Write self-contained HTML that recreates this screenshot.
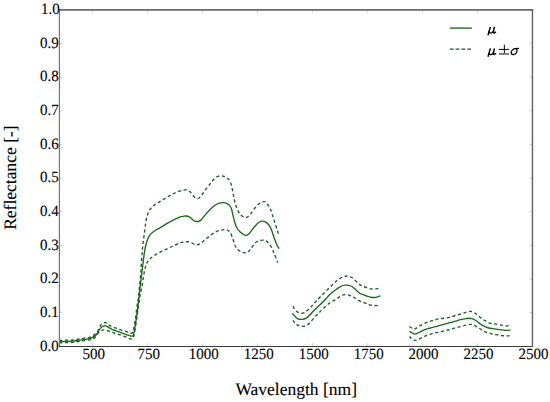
<!DOCTYPE html>
<html><head><meta charset="utf-8"><style>
html,body{margin:0;padding:0;background:#fff;}
body{width:550px;height:402px;overflow:hidden;}
svg{display:block;}
text{text-rendering:geometricPrecision;font-family:"Liberation Serif",serif;fill:#000;stroke:#000;stroke-width:0.1px;}
.tl{font-size:15px;}
.s{fill:none;stroke:#1a6a1a;stroke-width:1.35;stroke-linejoin:round;stroke-linecap:butt;}
.d{fill:none;stroke:#1b5f22;stroke-width:1.35;stroke-dasharray:3.2 2.55;stroke-dashoffset:0.3;stroke-linejoin:round;stroke-linecap:butt;}
.t{stroke:#d2d2d2;stroke-width:1.0;}
.f{fill:none;stroke:#111;stroke-width:1.2;stroke-linecap:square;}
.f2{fill:none;stroke:#333;stroke-width:1.3;stroke-linecap:square;}
</style></head><body>
<svg width="550" height="402" viewBox="0 0 550 402">
<rect x="0" y="0" width="550" height="402" fill="#fff"/>
<path d="M59.50,341.70 C60.70,341.65 64.53,341.48 66.70,341.40 C68.87,341.32 70.55,341.37 72.50,341.20 C74.45,341.03 76.45,340.70 78.40,340.40 C80.35,340.10 82.33,339.70 84.20,339.40 C86.07,339.10 88.30,338.88 89.60,338.60 C90.90,338.32 91.10,338.15 92.00,337.70 C92.90,337.25 94.12,336.60 95.00,335.90 C95.88,335.20 96.72,334.32 97.30,333.50 C97.88,332.68 98.00,331.85 98.50,331.00 C99.00,330.15 99.60,329.17 100.30,328.40 C101.00,327.63 101.90,326.87 102.70,326.40 C103.50,325.93 104.40,325.62 105.10,325.60 C105.80,325.58 106.20,325.92 106.90,326.30 C107.60,326.68 108.47,327.40 109.30,327.90 C110.13,328.40 110.85,328.83 111.90,329.30 C112.95,329.77 114.20,330.20 115.60,330.70 C117.00,331.20 118.53,331.63 120.30,332.30 C122.07,332.97 124.47,334.08 126.20,334.70 C127.93,335.32 129.58,335.82 130.70,336.00 C131.82,336.18 132.35,336.38 132.90,335.80 C133.45,335.22 133.53,334.73 134.00,332.50 C134.47,330.27 135.13,325.95 135.70,322.40 C136.27,318.85 136.82,315.73 137.40,311.20 C137.98,306.67 138.65,300.10 139.20,295.20 C139.75,290.30 140.20,286.02 140.70,281.80 C141.20,277.58 141.72,273.78 142.20,269.90 C142.68,266.02 143.17,261.82 143.60,258.50 C144.03,255.18 144.32,252.67 144.80,250.00 C145.28,247.33 145.88,244.58 146.50,242.50 C147.12,240.42 147.75,238.98 148.50,237.50 C149.25,236.02 149.83,234.82 151.00,233.60 C152.17,232.38 154.02,231.17 155.50,230.20 C156.98,229.23 157.50,229.20 159.90,227.80 C162.30,226.40 166.58,223.57 169.90,221.80 C173.22,220.03 177.55,218.12 179.80,217.20 C182.05,216.28 182.25,216.50 183.40,216.30 C184.55,216.10 185.58,215.83 186.70,216.00 C187.82,216.17 189.07,216.63 190.10,217.30 C191.13,217.97 191.97,219.33 192.90,220.00 C193.83,220.67 194.68,221.08 195.70,221.30 C196.72,221.52 197.98,221.65 199.00,221.30 C200.02,220.95 200.67,220.40 201.80,219.20 C202.93,218.00 204.40,215.73 205.80,214.10 C207.20,212.47 208.72,210.83 210.20,209.40 C211.68,207.97 213.28,206.50 214.70,205.50 C216.12,204.50 217.28,203.87 218.70,203.40 C220.12,202.93 221.80,202.67 223.20,202.70 C224.60,202.73 225.98,203.08 227.10,203.60 C228.22,204.12 229.15,204.87 229.90,205.80 C230.65,206.73 231.12,207.75 231.60,209.20 C232.08,210.65 232.27,212.28 232.80,214.50 C233.33,216.72 234.13,220.28 234.80,222.50 C235.47,224.72 235.95,226.25 236.80,227.80 C237.65,229.35 238.78,230.68 239.90,231.80 C241.02,232.92 242.48,233.92 243.50,234.50 C244.52,235.08 245.10,235.38 246.00,235.30 C246.90,235.22 247.98,234.78 248.90,234.00 C249.82,233.22 250.57,231.80 251.50,230.60 C252.43,229.40 253.27,228.18 254.50,226.80 C255.73,225.42 257.50,223.23 258.90,222.30 C260.30,221.37 261.58,221.10 262.90,221.20 C264.22,221.30 265.60,221.97 266.80,222.90 C268.00,223.83 269.17,225.22 270.10,226.80 C271.03,228.38 271.65,230.35 272.40,232.40 C273.15,234.45 273.87,237.05 274.60,239.10 C275.33,241.15 276.05,243.12 276.80,244.70 C277.55,246.28 278.72,247.95 279.10,248.60" class="s"/><path d="M292.50,313.40 C292.92,313.90 294.10,315.48 295.00,316.40 C295.90,317.32 296.75,318.40 297.90,318.90 C299.05,319.40 300.57,319.48 301.90,319.40 C303.23,319.32 304.57,319.15 305.90,318.40 C307.23,317.65 308.40,316.38 309.90,314.90 C311.40,313.42 313.25,311.15 314.90,309.50 C316.55,307.85 318.15,306.58 319.80,305.00 C321.45,303.42 323.13,301.75 324.80,300.00 C326.47,298.25 328.10,296.12 329.80,294.50 C331.50,292.88 333.30,291.58 335.00,290.30 C336.70,289.02 338.35,287.65 340.00,286.80 C341.65,285.95 343.45,285.45 344.90,285.20 C346.35,284.95 347.45,285.03 348.70,285.30 C349.95,285.57 351.17,286.03 352.40,286.80 C353.63,287.57 354.95,288.87 356.10,289.90 C357.25,290.93 358.45,292.32 359.30,293.00 C360.15,293.68 360.55,293.73 361.20,294.00 C361.85,294.27 362.48,294.35 363.20,294.60 C363.92,294.85 364.60,295.15 365.50,295.50 C366.40,295.85 367.47,296.37 368.60,296.70 C369.73,297.03 371.05,297.40 372.30,297.50 C373.55,297.60 374.75,297.57 376.10,297.30 C377.45,297.03 379.68,296.13 380.40,295.90" class="s"/><path d="M409.50,331.30 C409.97,331.58 411.37,332.53 412.30,333.00 C413.23,333.47 413.98,334.18 415.10,334.10 C416.22,334.02 417.42,333.23 419.00,332.50 C420.58,331.77 422.73,330.45 424.60,329.70 C426.47,328.95 428.15,328.57 430.20,328.00 C432.25,327.43 434.47,326.95 436.90,326.30 C439.33,325.65 442.62,324.70 444.80,324.10 C446.98,323.50 448.22,323.18 450.00,322.70 C451.78,322.22 453.73,321.72 455.50,321.20 C457.27,320.68 458.82,320.03 460.60,319.60 C462.38,319.17 464.52,318.82 466.20,318.60 C467.88,318.38 469.33,318.15 470.70,318.30 C472.07,318.45 473.10,318.78 474.40,319.50 C475.70,320.22 477.07,321.57 478.50,322.60 C479.93,323.63 481.32,324.80 483.00,325.70 C484.68,326.60 486.73,327.47 488.60,328.00 C490.47,328.53 492.33,328.62 494.20,328.90 C496.07,329.18 497.93,329.45 499.80,329.70 C501.67,329.95 503.63,330.35 505.40,330.40 C507.17,330.45 509.57,330.07 510.40,330.00" class="s"/><path d="M59.50,340.50 C60.70,340.45 64.53,340.28 66.70,340.20 C68.87,340.12 70.55,340.17 72.50,340.00 C74.45,339.83 76.45,339.50 78.40,339.20 C80.35,338.90 82.33,338.52 84.20,338.20 C86.07,337.88 88.30,337.62 89.60,337.30 C90.90,336.98 91.10,336.80 92.00,336.30 C92.90,335.80 94.12,334.93 95.00,334.30 C95.88,333.67 96.67,333.47 97.30,332.50 C97.93,331.53 98.20,329.77 98.80,328.50 C99.40,327.23 100.20,325.78 100.90,324.90 C101.60,324.02 102.30,323.60 103.00,323.20 C103.70,322.80 104.50,322.52 105.10,322.50 C105.70,322.48 105.78,322.55 106.60,323.10 C107.42,323.65 108.60,325.02 110.00,325.80 C111.40,326.58 113.23,327.13 115.00,327.80 C116.77,328.47 118.60,329.13 120.60,329.80 C122.60,330.47 125.32,331.23 127.00,331.80 C128.68,332.37 129.78,333.03 130.70,333.20 C131.62,333.37 132.03,333.33 132.50,332.80 C132.97,332.27 133.00,332.47 133.50,330.00 C134.00,327.53 134.88,322.17 135.50,318.00 C136.12,313.83 136.72,308.30 137.20,305.00 C137.68,301.70 138.07,300.82 138.40,298.20 C138.73,295.58 138.82,293.28 139.20,289.30 C139.58,285.32 140.33,278.68 140.70,274.30 C141.07,269.92 141.15,266.72 141.40,263.00 C141.65,259.28 141.93,255.17 142.20,252.00 C142.47,248.83 142.53,247.93 143.00,244.00 C143.47,240.07 144.47,232.43 145.00,228.40 C145.53,224.37 145.68,222.38 146.20,219.80 C146.72,217.22 147.37,214.77 148.10,212.90 C148.83,211.03 149.67,209.83 150.60,208.60 C151.53,207.37 152.37,206.53 153.70,205.50 C155.03,204.47 156.75,203.55 158.60,202.40 C160.45,201.25 162.72,199.85 164.80,198.60 C166.88,197.35 169.02,196.03 171.10,194.90 C173.18,193.77 175.25,192.60 177.30,191.80 C179.35,191.00 181.73,190.40 183.40,190.10 C185.07,189.80 186.10,189.63 187.30,190.00 C188.50,190.37 189.58,191.30 190.60,192.30 C191.62,193.30 192.47,195.00 193.40,196.00 C194.33,197.00 195.27,197.97 196.20,198.30 C197.13,198.63 198.15,198.45 199.00,198.00 C199.85,197.55 200.45,196.65 201.30,195.60 C202.15,194.55 203.17,193.00 204.10,191.70 C205.03,190.40 205.92,189.05 206.90,187.80 C207.88,186.55 209.15,185.25 210.00,184.20 C210.85,183.15 211.10,182.57 212.00,181.50 C212.90,180.43 214.10,178.75 215.40,177.80 C216.70,176.85 218.32,176.02 219.80,175.80 C221.28,175.58 222.98,176.07 224.30,176.50 C225.62,176.93 226.77,177.62 227.70,178.40 C228.63,179.18 229.25,179.98 229.90,181.20 C230.55,182.42 231.13,184.02 231.60,185.70 C232.07,187.38 232.33,189.43 232.70,191.30 C233.07,193.17 233.42,195.03 233.80,196.90 C234.18,198.77 234.48,200.62 235.00,202.50 C235.52,204.38 236.13,206.33 236.90,208.20 C237.67,210.07 238.45,212.22 239.60,213.70 C240.75,215.18 242.53,216.53 243.80,217.10 C245.07,217.67 246.07,217.67 247.20,217.10 C248.33,216.53 249.35,215.18 250.60,213.70 C251.85,212.22 253.22,209.92 254.70,208.20 C256.18,206.48 257.90,204.50 259.50,203.40 C261.10,202.30 263.08,201.58 264.30,201.60 C265.52,201.62 265.82,202.35 266.80,203.50 C267.78,204.65 269.03,205.87 270.20,208.50 C271.37,211.13 272.60,215.65 273.80,219.30 C275.00,222.95 276.53,227.70 277.40,230.40 C278.27,233.10 278.73,234.65 279.00,235.50" class="d"/><path d="M59.50,342.90 C60.70,342.85 64.53,342.68 66.70,342.60 C68.87,342.52 70.55,342.57 72.50,342.40 C74.45,342.23 76.45,341.90 78.40,341.60 C80.35,341.30 82.33,340.88 84.20,340.60 C86.07,340.32 88.30,340.15 89.60,339.90 C90.90,339.65 91.10,339.50 92.00,339.10 C92.90,338.70 94.12,338.30 95.00,337.50 C95.88,336.70 96.55,335.25 97.30,334.30 C98.05,333.35 98.50,332.53 99.50,331.80 C100.50,331.07 101.77,330.03 103.30,329.90 C104.83,329.77 106.95,330.48 108.70,331.00 C110.45,331.52 112.02,332.40 113.80,333.00 C115.58,333.60 117.37,333.93 119.40,334.60 C121.43,335.27 124.30,336.33 126.00,337.00 C127.70,337.67 128.68,338.27 129.60,338.60 C130.52,338.93 130.90,339.18 131.50,339.00 C132.10,338.82 132.70,338.50 133.20,337.50 C133.70,336.50 133.95,335.92 134.50,333.00 C135.05,330.08 135.83,324.50 136.50,320.00 C137.17,315.50 137.93,309.88 138.50,306.00 C139.07,302.12 139.28,300.23 139.90,296.70 C140.52,293.17 141.55,288.50 142.20,284.80 C142.85,281.10 143.25,277.48 143.80,274.50 C144.35,271.52 144.88,269.00 145.50,266.90 C146.12,264.80 146.75,263.23 147.50,261.90 C148.25,260.57 148.93,259.90 150.00,258.90 C151.07,257.90 152.25,257.02 153.90,255.90 C155.55,254.78 157.90,253.28 159.90,252.20 C161.90,251.12 163.90,250.35 165.90,249.40 C167.90,248.45 169.92,247.40 171.90,246.50 C173.88,245.60 175.82,244.75 177.80,244.00 C179.78,243.25 181.78,242.32 183.80,242.00 C185.82,241.68 187.97,241.65 189.90,242.10 C191.83,242.55 193.73,244.40 195.40,244.70 C197.07,245.00 198.32,244.70 199.90,243.90 C201.48,243.10 203.25,241.23 204.90,239.90 C206.55,238.57 208.15,237.15 209.80,235.90 C211.45,234.65 213.13,233.32 214.80,232.40 C216.47,231.48 218.18,230.87 219.80,230.40 C221.42,229.93 223.23,229.65 224.50,229.60 C225.77,229.55 226.47,229.65 227.40,230.10 C228.33,230.55 229.28,231.12 230.10,232.30 C230.92,233.48 231.63,235.48 232.30,237.20 C232.97,238.92 233.43,240.80 234.10,242.60 C234.77,244.40 235.33,246.58 236.30,248.00 C237.27,249.42 238.70,250.32 239.90,251.10 C241.10,251.88 242.30,252.43 243.50,252.70 C244.70,252.97 245.97,253.23 247.10,252.70 C248.23,252.17 248.88,251.18 250.30,249.50 C251.72,247.82 253.78,244.13 255.60,242.60 C257.42,241.07 259.52,240.60 261.20,240.30 C262.88,240.00 264.40,240.25 265.70,240.80 C267.00,241.35 267.98,242.40 269.00,243.60 C270.02,244.80 270.97,246.43 271.80,248.00 C272.63,249.57 273.02,250.58 274.00,253.00 C274.98,255.42 277.08,260.92 277.70,262.50" class="d"/><path d="M293.00,306.40 C293.50,307.15 294.85,309.82 296.00,310.90 C297.15,311.98 298.58,312.57 299.90,312.90 C301.22,313.23 302.57,313.40 303.90,312.90 C305.23,312.40 306.57,311.07 307.90,309.90 C309.23,308.73 310.58,307.30 311.90,305.90 C313.22,304.50 314.20,303.23 315.80,301.50 C317.40,299.77 319.17,297.85 321.50,295.50 C323.83,293.15 327.22,289.88 329.80,287.40 C332.38,284.92 334.98,282.27 337.00,280.60 C339.02,278.93 340.27,278.17 341.90,277.40 C343.53,276.63 345.17,275.98 346.80,276.00 C348.43,276.02 350.15,276.63 351.70,277.50 C353.25,278.37 354.53,279.87 356.10,281.20 C357.67,282.53 359.43,284.47 361.10,285.50 C362.77,286.53 364.43,286.83 366.10,287.40 C367.77,287.97 369.55,288.65 371.10,288.90 C372.65,289.15 373.95,289.05 375.40,288.90 C376.85,288.75 379.07,288.15 379.80,288.00" class="d"/><path d="M293.00,320.40 C293.50,321.07 294.85,323.50 296.00,324.40 C297.15,325.30 298.58,325.48 299.90,325.80 C301.22,326.12 302.57,326.53 303.90,326.30 C305.23,326.07 306.57,325.38 307.90,324.40 C309.23,323.42 310.58,321.82 311.90,320.40 C313.22,318.98 314.48,317.32 315.80,315.90 C317.12,314.48 318.47,313.23 319.80,311.90 C321.13,310.57 322.13,309.42 323.80,307.90 C325.47,306.38 327.93,304.13 329.80,302.80 C331.67,301.47 333.30,300.92 335.00,299.90 C336.70,298.88 338.35,297.58 340.00,296.70 C341.65,295.82 343.25,294.80 344.90,294.60 C346.55,294.40 348.23,294.93 349.90,295.50 C351.57,296.07 353.23,297.07 354.90,298.00 C356.57,298.93 358.23,300.27 359.90,301.10 C361.57,301.93 363.25,302.38 364.90,303.00 C366.55,303.62 368.15,304.38 369.80,304.80 C371.45,305.22 373.23,305.38 374.80,305.50 C376.37,305.62 378.47,305.50 379.20,305.50" class="d"/><path d="M409.50,326.50 C410.07,326.83 411.87,328.17 412.90,328.50 C413.93,328.83 414.50,328.97 415.70,328.50 C416.90,328.03 418.43,326.63 420.10,325.70 C421.77,324.77 423.63,323.73 425.70,322.90 C427.77,322.07 430.25,321.38 432.50,320.70 C434.75,320.02 436.78,319.28 439.20,318.80 C441.62,318.32 444.58,318.27 447.00,317.80 C449.42,317.33 451.43,316.63 453.70,316.00 C455.97,315.37 458.52,314.62 460.60,314.00 C462.68,313.38 464.43,312.72 466.20,312.30 C467.97,311.88 469.52,311.22 471.20,311.50 C472.88,311.78 474.72,312.93 476.30,314.00 C477.88,315.07 479.22,316.78 480.70,317.90 C482.18,319.02 483.52,319.77 485.20,320.70 C486.88,321.63 488.93,322.93 490.80,323.50 C492.67,324.07 494.53,323.82 496.40,324.10 C498.27,324.38 500.32,324.88 502.00,325.20 C503.68,325.52 505.18,326.00 506.50,326.00 C507.82,326.00 509.33,325.33 509.90,325.20" class="d"/><path d="M409.50,336.40 C409.97,336.87 411.27,338.55 412.30,339.20 C413.33,339.85 414.40,340.40 415.70,340.30 C417.00,340.20 418.43,339.35 420.10,338.60 C421.77,337.85 423.63,336.63 425.70,335.80 C427.77,334.97 430.25,334.25 432.50,333.60 C434.75,332.95 436.78,332.47 439.20,331.90 C441.62,331.33 444.58,330.80 447.00,330.20 C449.42,329.60 451.43,328.90 453.70,328.30 C455.97,327.70 458.52,327.12 460.60,326.60 C462.68,326.08 464.43,325.57 466.20,325.20 C467.97,324.83 469.52,324.22 471.20,324.40 C472.88,324.58 474.72,325.48 476.30,326.30 C477.88,327.12 479.22,328.37 480.70,329.30 C482.18,330.23 483.52,331.18 485.20,331.90 C486.88,332.62 488.93,333.13 490.80,333.60 C492.67,334.07 494.53,334.37 496.40,334.70 C498.27,335.03 500.32,335.42 502.00,335.60 C503.68,335.78 505.18,335.77 506.50,335.80 C507.82,335.83 509.33,335.80 509.90,335.80" class="d"/>
<line x1="92.49" y1="346.20" x2="92.49" y2="343.20" class="t"/><line x1="92.49" y1="9.80" x2="92.49" y2="12.80" class="t"/><line x1="147.48" y1="346.20" x2="147.48" y2="343.20" class="t"/><line x1="147.48" y1="9.80" x2="147.48" y2="12.80" class="t"/><line x1="202.47" y1="346.20" x2="202.47" y2="343.20" class="t"/><line x1="202.47" y1="9.80" x2="202.47" y2="12.80" class="t"/><line x1="257.46" y1="346.20" x2="257.46" y2="343.20" class="t"/><line x1="257.46" y1="9.80" x2="257.46" y2="12.80" class="t"/><line x1="312.45" y1="346.20" x2="312.45" y2="343.20" class="t"/><line x1="312.45" y1="9.80" x2="312.45" y2="12.80" class="t"/><line x1="367.43" y1="346.20" x2="367.43" y2="343.20" class="t"/><line x1="367.43" y1="9.80" x2="367.43" y2="12.80" class="t"/><line x1="422.42" y1="346.20" x2="422.42" y2="343.20" class="t"/><line x1="422.42" y1="9.80" x2="422.42" y2="12.80" class="t"/><line x1="477.41" y1="346.20" x2="477.41" y2="343.20" class="t"/><line x1="477.41" y1="9.80" x2="477.41" y2="12.80" class="t"/><line x1="59.50" y1="312.56" x2="62.50" y2="312.56" class="t"/><line x1="532.40" y1="312.56" x2="529.40" y2="312.56" class="t"/><line x1="59.50" y1="278.92" x2="62.50" y2="278.92" class="t"/><line x1="532.40" y1="278.92" x2="529.40" y2="278.92" class="t"/><line x1="59.50" y1="245.28" x2="62.50" y2="245.28" class="t"/><line x1="532.40" y1="245.28" x2="529.40" y2="245.28" class="t"/><line x1="59.50" y1="211.64" x2="62.50" y2="211.64" class="t"/><line x1="532.40" y1="211.64" x2="529.40" y2="211.64" class="t"/><line x1="59.50" y1="178.00" x2="62.50" y2="178.00" class="t"/><line x1="532.40" y1="178.00" x2="529.40" y2="178.00" class="t"/><line x1="59.50" y1="144.36" x2="62.50" y2="144.36" class="t"/><line x1="532.40" y1="144.36" x2="529.40" y2="144.36" class="t"/><line x1="59.50" y1="110.72" x2="62.50" y2="110.72" class="t"/><line x1="532.40" y1="110.72" x2="529.40" y2="110.72" class="t"/><line x1="59.50" y1="77.08" x2="62.50" y2="77.08" class="t"/><line x1="532.40" y1="77.08" x2="529.40" y2="77.08" class="t"/><line x1="59.50" y1="43.44" x2="62.50" y2="43.44" class="t"/><line x1="532.40" y1="43.44" x2="529.40" y2="43.44" class="t"/>
<line x1="59.4" y1="9" x2="59.4" y2="347" stroke="#707070" stroke-width="1.15"/>
<line x1="59" y1="346.45" x2="533.2" y2="346.45" stroke="#3a3a3a" stroke-width="1.1"/>
<line x1="59" y1="9.9" x2="533.2" y2="9.9" stroke="#6a6a6a" stroke-width="1.6"/>
<line x1="532.45" y1="9" x2="532.45" y2="347" stroke="#606060" stroke-width="1.4"/>
<text transform="translate(93.69,358.80) scale(1,1.05)" text-anchor="middle" class="tl">500</text><text transform="translate(148.68,358.80) scale(1,1.05)" text-anchor="middle" class="tl">750</text><text transform="translate(203.67,358.80) scale(1,1.05)" text-anchor="middle" class="tl">1000</text><text transform="translate(258.66,358.80) scale(1,1.05)" text-anchor="middle" class="tl">1250</text><text transform="translate(313.65,358.80) scale(1,1.05)" text-anchor="middle" class="tl">1500</text><text transform="translate(368.63,358.80) scale(1,1.05)" text-anchor="middle" class="tl">1750</text><text transform="translate(423.62,358.80) scale(1,1.05)" text-anchor="middle" class="tl">2000</text><text transform="translate(478.61,358.80) scale(1,1.05)" text-anchor="middle" class="tl">2250</text><text transform="translate(533.60,358.80) scale(1,1.05)" text-anchor="middle" class="tl">2500</text><text transform="translate(58.80,350.50) scale(1,1.05)" text-anchor="end" class="tl">0.0</text><text transform="translate(58.80,316.86) scale(1,1.05)" text-anchor="end" class="tl">0.1</text><text transform="translate(58.80,283.22) scale(1,1.05)" text-anchor="end" class="tl">0.2</text><text transform="translate(58.80,249.58) scale(1,1.05)" text-anchor="end" class="tl">0.3</text><text transform="translate(58.80,215.94) scale(1,1.05)" text-anchor="end" class="tl">0.4</text><text transform="translate(58.80,182.30) scale(1,1.05)" text-anchor="end" class="tl">0.5</text><text transform="translate(58.80,148.66) scale(1,1.05)" text-anchor="end" class="tl">0.6</text><text transform="translate(58.80,115.02) scale(1,1.05)" text-anchor="end" class="tl">0.7</text><text transform="translate(58.80,81.38) scale(1,1.05)" text-anchor="end" class="tl">0.8</text><text transform="translate(58.80,47.74) scale(1,1.05)" text-anchor="end" class="tl">0.9</text><text transform="translate(59.80,14.10) scale(1,1.05)" text-anchor="end" class="tl">1.0</text>
<text x="296.2" y="395" text-anchor="middle" style="font-size:17.5px">Wavelength [nm]</text>
<text transform="translate(16,177.6) rotate(-90)" text-anchor="middle" style="font-size:17.5px">Reflectance [-]</text>
<line x1="449.8" y1="28.1" x2="471.9" y2="28.1" class="s"/>
<line x1="449.8" y1="49.1" x2="471.9" y2="49.1" class="d" style="stroke-dasharray:3.9 1.9;stroke-dashoffset:0"/>
<g fill="none" stroke="#000" stroke-linecap="butt">
<g stroke-width="1.45"><path d="M490.4,48.4 L488.0,56.7"/><path d="M489.3,52.6 C489.0,53.9 489.6,54.6 490.7,54.6 C492.0,54.6 493.1,53.6 493.6,52.3"/><path d="M494.4,48.4 L493.5,52.6 C493.3,53.8 493.6,54.5 494.2,54.5 C494.9,54.5 495.4,53.9 495.8,53.2"/></g>
<g transform="translate(0,-21.5)" stroke-width="1.45"><path d="M490.4,48.4 L488.0,56.7"/><path d="M489.3,52.6 C489.0,53.9 489.6,54.6 490.7,54.6 C492.0,54.6 493.1,53.6 493.6,52.3"/><path d="M494.4,48.4 L493.5,52.6 C493.3,53.8 493.6,54.5 494.2,54.5 C494.9,54.5 495.4,53.9 495.8,53.2"/></g>
<g stroke-width="1.0"><path d="M504.35,44.7 L504.35,53.2"/><path d="M499,49.4 L509,49.4"/><path d="M499,54 L509,54"/></g>
<g stroke-width="1.3"><path d="M515.6,48.6 C513.2,48.6 511.2,50.6 511.2,52.6 C511.2,53.9 512.0,54.6 513.1,54.6 C515.4,54.6 517.0,52.5 517.0,50.5 C517.0,49.4 516.5,48.6 515.6,48.6 Z"/><path d="M515.4,48.6 L519.0,48.3"/></g>
</g>
</svg>
</body></html>
